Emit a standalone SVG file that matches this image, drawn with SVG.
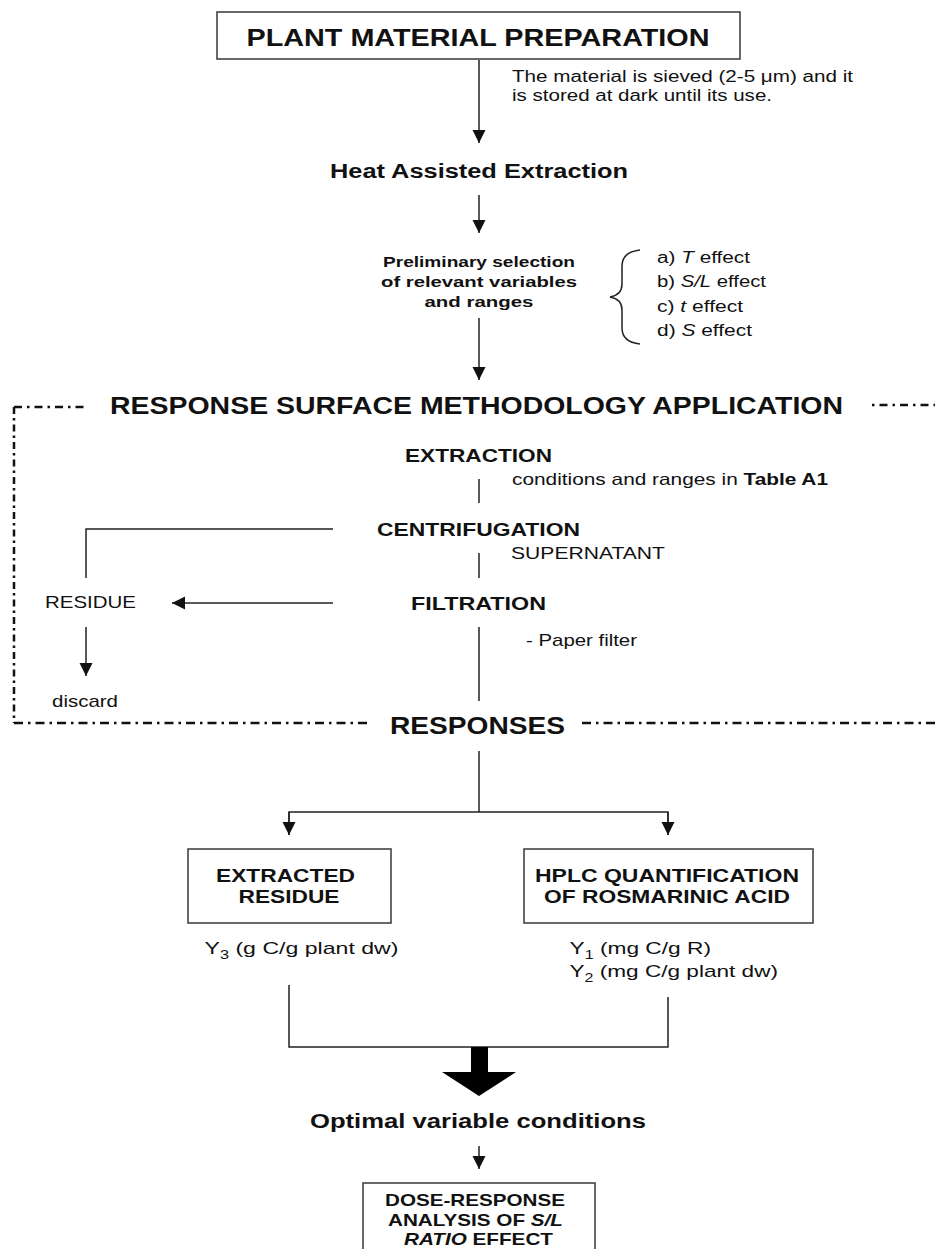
<svg xmlns="http://www.w3.org/2000/svg" width="935" height="1249" viewBox="0 0 935 1249">
<style>
text{font-family:"Liberation Sans",Arial,sans-serif;fill:#111}
.b{font-weight:bold}
.box{fill:#fff;stroke:#444;stroke-width:1.6}
.ln{fill:none;stroke:#222;stroke-width:1.5}
.dd{fill:none;stroke:#111;stroke-width:2.5}
</style>
<defs>
<marker id="ah" markerUnits="userSpaceOnUse" markerWidth="14" markerHeight="14" viewBox="0 0 14 14" refX="13" refY="7" orient="auto">
<path d="M0,0.5 L13,7 L0,13.5 z" fill="#111"/>
</marker>
</defs>
<rect width="935" height="1249" fill="#fff"/>

<g id="connectors">
<line class="ln" x1="479" y1="60" x2="479" y2="143" marker-end="url(#ah)"/>
<line class="ln" x1="479" y1="195" x2="479" y2="233" marker-end="url(#ah)"/>
<line class="ln" x1="479" y1="318" x2="479" y2="380" marker-end="url(#ah)"/>
<line class="ln" x1="479" y1="479" x2="479" y2="503"/>
<line class="ln" x1="479" y1="553" x2="479" y2="578"/>
<line class="ln" x1="479" y1="627" x2="479" y2="701"/>
<polyline class="ln" points="333,529 86,529 86,578"/>
<line class="ln" x1="333" y1="603" x2="172" y2="603" marker-end="url(#ah)"/>
<line class="ln" x1="86" y1="627" x2="86" y2="676" marker-end="url(#ah)"/>
<line class="ln" x1="479" y1="751" x2="479" y2="812"/>
<polyline class="ln" points="289,835 289,812 668,812 668,835"/>
<line class="ln" x1="289" y1="812" x2="289" y2="835" marker-end="url(#ah)"/>
<line class="ln" x1="668" y1="812" x2="668" y2="835" marker-end="url(#ah)"/>
<polyline class="ln" points="289,985 289,1047 668,1047 668,997"/>
<path d="M471,1047 L488,1047 L488,1072 L516,1072 L479,1096 L442,1072 L471,1072 z" fill="#000"/>
<line class="ln" x1="479" y1="1146" x2="479" y2="1169" marker-end="url(#ah)"/>
<path class="ln" d="M640,250 Q622,252 622,266 L622,284 Q622,295 610,297 Q622,299 622,310 L622,328 Q622,342 640,344"/>
</g>

<g id="rsm-frame">
<line class="dd" x1="14" y1="407" x2="86" y2="407" stroke-dasharray="8 5 2.5 5"/>
<line class="dd" x1="872" y1="405" x2="935" y2="405" stroke-dasharray="2.5 5 8 5"/>
<line class="dd" x1="14" y1="407" x2="14" y2="723" stroke-dasharray="7 4 2.5 4"/>
<line class="dd" x1="14" y1="723" x2="372" y2="723" stroke-dasharray="9 5 2.5 5"/>
<line class="dd" x1="582" y1="723" x2="935" y2="723" stroke-dasharray="9 5 2.5 5"/>
</g>

<g id="n-plant">
<rect class="box" x="217" y="12" width="523" height="47"/>
<text class="b" x="478" y="46" font-size="24" text-anchor="middle" textLength="463" lengthAdjust="spacingAndGlyphs">PLANT MATERIAL PREPARATION</text>
</g>
<g id="n-sieve">
<text x="512" y="82" font-size="16" textLength="341" lengthAdjust="spacingAndGlyphs">The material is sieved (2-5 μm) and it</text>
<text x="512" y="101" font-size="16" textLength="260" lengthAdjust="spacingAndGlyphs">is stored at dark until its use.</text>
</g>
<g id="n-heat">
<text class="b" x="479" y="178" font-size="20" text-anchor="middle" textLength="298" lengthAdjust="spacingAndGlyphs">Heat Assisted Extraction</text>
</g>
<g id="n-prelim">
<text class="b" x="479" y="267" font-size="15.5" text-anchor="middle" textLength="192" lengthAdjust="spacingAndGlyphs">Preliminary selection</text>
<text class="b" x="479" y="287" font-size="15.5" text-anchor="middle" textLength="196" lengthAdjust="spacingAndGlyphs">of relevant variables</text>
<text class="b" x="479" y="307" font-size="15.5" text-anchor="middle" textLength="109" lengthAdjust="spacingAndGlyphs">and ranges</text>
</g>
<g id="n-effects">
<text x="657" y="263" font-size="16" textLength="93" lengthAdjust="spacingAndGlyphs">a) <tspan font-style="italic">T</tspan> effect</text>
<text x="657" y="287" font-size="16" textLength="109" lengthAdjust="spacingAndGlyphs">b) <tspan font-style="italic">S/L</tspan> effect</text>
<text x="657" y="312" font-size="16" textLength="86" lengthAdjust="spacingAndGlyphs">c) <tspan font-style="italic">t</tspan> effect</text>
<text x="657" y="336" font-size="16" textLength="95" lengthAdjust="spacingAndGlyphs">d) <tspan font-style="italic">S</tspan> effect</text>
</g>
<g id="n-rsm">
<text class="b" x="110" y="414" font-size="24" textLength="733" lengthAdjust="spacingAndGlyphs">RESPONSE SURFACE METHODOLOGY APPLICATION</text>
</g>
<g id="n-extraction">
<text class="b" x="478.5" y="462" font-size="19" text-anchor="middle" textLength="147" lengthAdjust="spacingAndGlyphs">EXTRACTION</text>
<text x="512" y="485" font-size="16.5" textLength="316" lengthAdjust="spacingAndGlyphs">conditions and ranges in <tspan font-weight="bold">Table A1</tspan></text>
</g>
<g id="n-centrifugation">
<text class="b" x="478.5" y="536" font-size="19" text-anchor="middle" textLength="203" lengthAdjust="spacingAndGlyphs">CENTRIFUGATION</text>
<text x="511" y="559" font-size="17" textLength="154" lengthAdjust="spacingAndGlyphs">SUPERNATANT</text>
</g>
<g id="n-filtration">
<text class="b" x="478.5" y="610" font-size="19" text-anchor="middle" textLength="135" lengthAdjust="spacingAndGlyphs">FILTRATION</text>
<text x="526" y="646" font-size="17" textLength="111" lengthAdjust="spacingAndGlyphs">- Paper filter</text>
</g>
<g id="n-residue">
<text x="45" y="608" font-size="17" textLength="91" lengthAdjust="spacingAndGlyphs">RESIDUE</text>
</g>
<g id="n-discard">
<text x="52" y="707" font-size="17" textLength="66" lengthAdjust="spacingAndGlyphs">discard</text>
</g>
<g id="n-responses">
<text class="b" x="477.5" y="734" font-size="23" text-anchor="middle" textLength="175" lengthAdjust="spacingAndGlyphs">RESPONSES</text>
</g>
<g id="n-extracted-residue">
<rect class="box" x="188" y="849" width="203" height="74"/>
<text class="b" x="285.5" y="882" font-size="17.5" text-anchor="middle" textLength="139" lengthAdjust="spacingAndGlyphs">EXTRACTED</text>
<text class="b" x="289" y="903" font-size="17.5" text-anchor="middle" textLength="101" lengthAdjust="spacingAndGlyphs">RESIDUE</text>
<text x="204.5" y="954" font-size="17" textLength="194" lengthAdjust="spacingAndGlyphs">Y<tspan font-size="12" dy="5">3</tspan><tspan dy="-5"> (g C/g plant dw)</tspan></text>
</g>
<g id="n-hplc">
<rect class="box" x="524" y="849" width="289" height="74"/>
<text class="b" x="667" y="882" font-size="17.5" text-anchor="middle" textLength="264" lengthAdjust="spacingAndGlyphs">HPLC QUANTIFICATION</text>
<text class="b" x="667" y="903" font-size="17.5" text-anchor="middle" textLength="246" lengthAdjust="spacingAndGlyphs">OF ROSMARINIC ACID</text>
<text x="569.5" y="954" font-size="17" textLength="141.5" lengthAdjust="spacingAndGlyphs">Y<tspan font-size="12" dy="5">1</tspan><tspan dy="-5"> (mg C/g R)</tspan></text>
<text x="569.5" y="977" font-size="17" textLength="208.5" lengthAdjust="spacingAndGlyphs">Y<tspan font-size="12" dy="5">2</tspan><tspan dy="-5"> (mg C/g plant dw)</tspan></text>
</g>
<g id="n-optimal">
<text class="b" x="478" y="1128" font-size="20" text-anchor="middle" textLength="336" lengthAdjust="spacingAndGlyphs">Optimal variable conditions</text>
</g>
<g id="n-dose">
<rect class="box" x="363" y="1183" width="232" height="80"/>
<text class="b" x="475" y="1206" font-size="17" text-anchor="middle" textLength="180" lengthAdjust="spacingAndGlyphs">DOSE-RESPONSE</text>
<text class="b" x="475.5" y="1226" font-size="17" text-anchor="middle" textLength="175" lengthAdjust="spacingAndGlyphs">ANALYSIS OF <tspan font-style="italic">S/L</tspan></text>
<text class="b" x="478.5" y="1245" font-size="17" text-anchor="middle" textLength="149" lengthAdjust="spacingAndGlyphs"><tspan font-style="italic">RATIO</tspan> EFFECT</text>
</g>
</svg>
